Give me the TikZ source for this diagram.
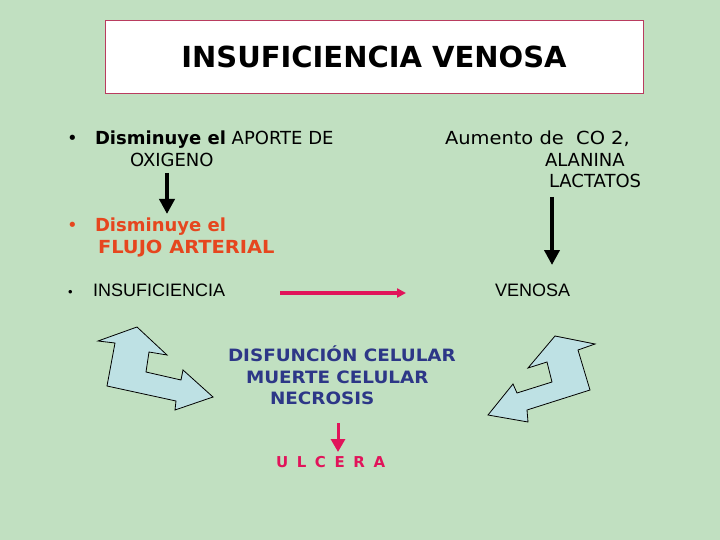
\documentclass[tikz,border=0pt]{standalone}
\usepackage{fontspec}
\setmainfont{DejaVu Sans}
\newfontfamily\arialfont{Liberation Sans}
\newfontfamily\widefont{DejaVu Sans}[FakeStretch=1.08]
\usetikzlibrary{arrows.meta}

\definecolor{bggreen}{RGB}{193,224,193}
\definecolor{boxred}{RGB}{185,60,95}
\definecolor{flujored}{RGB}{230,70,30}
\definecolor{celblue}{RGB}{45,55,135}
\definecolor{ulcpink}{RGB}{225,20,90}
\definecolor{bendfill}{RGB}{190,225,228}

\begin{document}
\begin{tikzpicture}[x=1pt, y=-1pt,
  every node/.style={inner sep=0pt, outer sep=0pt},
  txt/.style={anchor=base west, font=\fontsize{18}{21}\selectfont},
  blue txt/.style={anchor=base west, font=\fontsize{17}{20}\selectfont\widefont\bfseries, text=celblue},
  bentarrow/.style={fill=bendfill, draw=black, line width=0.8pt, line join=miter},
  down/.style={line width=4.3pt, -{Triangle[width=15pt,length=15pt]}}]

  % Background and frame
  \fill[bggreen] (0,0) rectangle (720,540);
  \useasboundingbox (0,0) rectangle (720,540);

  % Title box
  \draw[fill=white, draw=boxred, line width=0.8pt] (105,20) rectangle (643,93);
  \node[anchor=base, font=\fontsize{29}{34}\selectfont\bfseries] (title) at (374,68) {INSUFICIENCIA VENOSA};

  % Left column: bullets
  \node[txt] (b1) at (67,145) {\textbullet};
  \node[txt] (aporte) at (95,145) {\textbf{Disminuye el} APORTE DE};
  \node[txt] (oxigeno) at (130,167) {OXIGENO};
  \node[txt, text=flujored] (b2) at (67,232) {\textbullet};
  \node[txt, text=flujored, font=\fontsize{18}{21}\selectfont\bfseries] (dism) at (95,232) {Disminuye el};
  \node[txt, text=flujored, font=\fontsize{18}{21}\selectfont\widefont\bfseries] (flujo) at (98,253) {FLUJO ARTERIAL};
  \node[txt, font=\fontsize{13}{16}\selectfont\arialfont] (b3) at (68,296) {\textbullet};
  \node[txt, font=\fontsize{18}{21}\selectfont\arialfont] (insuf) at (93,296) {INSUFICIENCIA};
  \node[txt, font=\fontsize{18}{21}\selectfont\arialfont] (venosa) at (495,296) {VENOSA};

  % Right column
  \node[txt, font=\fontsize{18}{21}\selectfont\widefont] (aumento) at (445,145) {Aumento de~~CO 2,};
  \node[txt] (alanina) at (545,167) {ALANINA};
  \node[txt] (lactatos) at (549,188) {LACTATOS};

  % Cell damage
  \node[blue txt] (disf) at (228,361) {DISFUNCIÓN CELULAR};
  \node[blue txt] (muerte) at (246,383) {MUERTE CELULAR};
  \node[blue txt] (necrosis) at (270,404) {NECROSIS};
  \node[anchor=base west, font=\fontsize{15}{18}\selectfont\bfseries, text=ulcpink] (ulcera) at (276,467)
    {U\hspace{8.6pt}L\hspace{8.6pt}C\hspace{8.6pt}E\hspace{8.6pt}R\hspace{8.6pt}A};

  % Arrows
  \coordinate (a1s) at (167,173);
  \coordinate (a1e) at (167,214);
  \draw[down] (a1s) -- (a1e);
  \coordinate (a2s) at (552,197);
  \coordinate (a2e) at (552,265);
  \draw[down] (a2s) -- (a2e);
  \coordinate (a3s) at (280,293);
  \coordinate (a3e) at (406,293);
  \draw[ulcpink, line width=4pt, -{Triangle[width=9pt,length=9pt]}] (a3s) -- (a3e);
  \coordinate (a4s) at (338,423);
  \coordinate (a4e) at (338,452);
  \draw[ulcpink, line width=3pt, -{Triangle[width=14pt,length=13pt]}] (a4s) -- (a4e);

  % Bent double arrows
  \draw[bentarrow] (98,341) -- (137,327) -- (167,355) -- (149,352) -- (146,372) -- (181,380)
    -- (183,370) -- (213,397) -- (175,410) -- (176,401) -- (107,386) -- (115,343) -- cycle;
  \draw[bentarrow] (555,336) -- (595,344) -- (578,350) -- (590,390) -- (527,410) -- (528,422)
    -- (488,415) -- (513,384) -- (517,393) -- (552,382) -- (547,362) -- (528,368) -- cycle;
\end{tikzpicture}
\end{document}
